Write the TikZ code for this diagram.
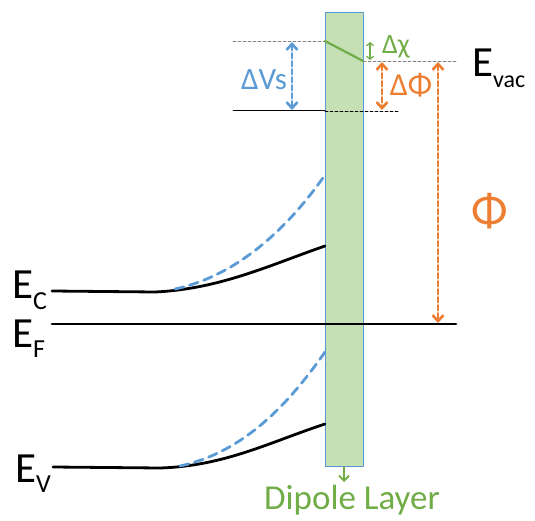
\documentclass[tikz,border=0pt]{standalone}
\usepackage{fontspec}
\setmainfont{Carlito}
\usetikzlibrary{calc, positioning}
\usetikzlibrary{arrows.meta}

\definecolor{levelblue}{HTML}{5B9BD5}
\definecolor{gaporange}{HTML}{ED7D31}
\definecolor{dipgreen}{HTML}{70AD47}
\definecolor{bandfill}{HTML}{C5E0B4}

\newcommand{\bandlabel}[3]{{\fontsize{43}{43}\selectfont #1}\raisebox{#3}{\fontsize{26}{26}\selectfont #2}}

\begin{document}
\begin{tikzpicture}[x=1pt, y=-1pt, line join=round, line cap=round]
\tikzset{
  level/.style={line width=2.8pt, black},
  bent/.style={line width=2.8pt, levelblue, dash pattern=on 9pt off 6pt},
  guide/.style={line width=0.6pt, gray, dash pattern=on 3pt off 2pt},
  gap/.style={line width=2.6pt, dash pattern=on 5pt off 3pt,
    {Straight Barb[length=6pt, width=11pt]}-{Straight Barb[length=6pt, width=11pt]}},
}
\useasboundingbox (0,0) rectangle (535,521);

% dipole layer
\draw[levelblue, line width=0.9pt, fill=bandfill] (325,12) rectangle (363,466);
\coordinate (Dtop) at (344,467);
\coordinate (Dbot) at (344,482);
\draw[dipgreen, line width=1.8pt, -{Straight Barb[length=5pt, width=10pt]}] (Dtop) -- (Dbot);
\node[anchor=base, text=dipgreen, font=\fontsize{35}{35}\selectfont] (dipole) at (352,509) {Dipole Layer};

% vacuum levels
\coordinate (Vl) at (233,41);
\coordinate (Vm) at (325,41);
\coordinate (Vn) at (363,61);
\coordinate (Vr) at (456,61);
\coordinate (Sl) at (233,111);
\coordinate (Sm) at (325,111);
\coordinate (Sr) at (398,111);
\draw[guide] (Vl) -- (Vm);
\draw[guide] (Vn) -- (Vr);
\draw[dipgreen, line width=2.2pt] (Vm) -- (Vn);
\draw[line width=1pt, black] (Sl) -- (Sm);
\draw[guide, black] (Sm) -- (Sr);

% bands
\coordinate (Cl) at (52,291);
\coordinate (Ck) at (155,292);
\coordinate (Cr) at (325,246);
\coordinate (Cs) at (175,289);
\coordinate (Ct) at (325,175);
\draw[level] (Cl) -- (Ck) .. controls (220,289) and (270,265) .. (Cr);
\draw[bent] (Cs) .. controls (240,275) and (290,225) .. (Ct);

\coordinate (Fl) at (52,324);
\coordinate (Fr) at (456,324);
\draw[level] (Fl) -- (Fr);

\coordinate (Vvl) at (53,467);
\coordinate (Vvk) at (160,468);
\coordinate (Vvr) at (325,424);
\coordinate (Vvs) at (180,466);
\coordinate (Vvt) at (325,352);
\draw[level] (Vvl) -- (Vvk) .. controls (225,466) and (270,442) .. (Vvr);
\draw[bent] (Vvs) .. controls (245,452) and (290,402) .. (Vvt);

% steps
\coordinate (Sa) at (292,42);
\coordinate (Sb) at (292,110);
\draw[gap, levelblue] (Sa) -- (Sb);
\node[text=levelblue, font=\fontsize{31}{31}\selectfont] (dvs) at (264,80) {ΔVs};

\coordinate (Xa) at (370,42);
\coordinate (Xb) at (370,60);
\draw[dipgreen, line width=1.2pt,
  {Straight Barb[length=3pt, width=7pt]}-{Straight Barb[length=3pt, width=7pt]}] (Xa) -- (Xb);
\node[text=dipgreen, font=\fontsize{28}{28}\selectfont] (dchi) at (396,47) {Δχ};

\coordinate (Pa) at (382,62);
\coordinate (Pb) at (382,110);
\draw[gap, gaporange] (Pa) -- (Pb);
\node[text=gaporange, font=\fontsize{32}{32}\selectfont] (dphi) at (411,85) {ΔΦ};

\coordinate (Wa) at (438,62);
\coordinate (Wb) at (438,323);
\draw[gap, gaporange] (Wa) -- (Wb);
\node[text=gaporange, font=\fontsize{48}{48}\selectfont] (phi) at (490,211) {Φ};

% labels
\node[anchor=base west, inner sep=0pt] (ec) at (12,298) {\bandlabel{E}{C}{-12pt}};
\node[anchor=base west, inner sep=0pt] (ef) at (12,347) {\bandlabel{E}{F}{-10pt}};
\node[anchor=base west, inner sep=0pt] (ev) at (15,482) {\bandlabel{E}{V}{-10pt}};
\node[anchor=base west, inner sep=0pt] (evac) at (472,77)
  {{\fontsize{43}{43}\selectfont E}\raisebox{-11pt}{\fontsize{24}{24}\selectfont vac}};
\end{tikzpicture}
\end{document}
